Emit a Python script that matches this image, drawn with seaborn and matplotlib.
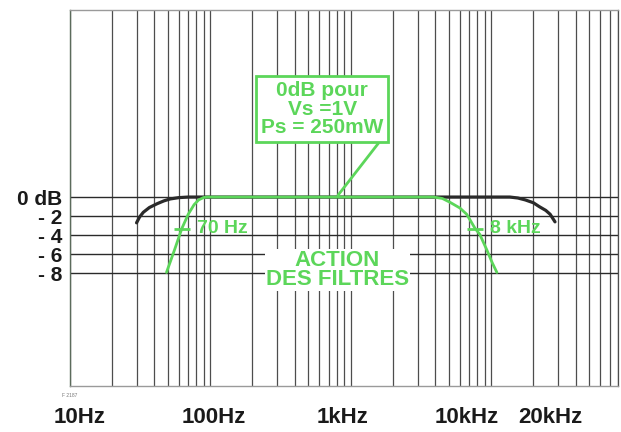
import matplotlib
matplotlib.use('Agg')
import matplotlib.pyplot as plt
import matplotlib.ticker as mticker
import matplotlib.transforms as mtransforms
import seaborn as sns
import pandas as pd

# response curves (Hz, dB)
freq_amp = [30, 31.5, 33.5, 37, 42, 47, 52, 60, 70, 13600, 15500, 17500, 20000, 22000, 24500, 26300, 28500]
db_amp = [-2.7, -2.1, -1.6, -1.1, -0.7, -0.4, -0.2, -0.06, 0, 0, -0.1, -0.3, -0.6, -1.0, -1.4, -1.8, -2.6]

freq_filt = [49, 56, 63, 70, 77, 83, 90, 95, 3900, 4500, 5100, 6000, 6700, 7700, 8300, 9300, 10200, 11000]
db_filt = [-7.9, -5.5, -3.3, -1.8, -0.8, -0.3, -0.05, 0, 0, -0.15, -0.55, -1.15, -1.8, -3.3, -3.9, -5.5, -6.9, -7.9]

# filter cut-off marks
cut_freq = [63, 7700]
cut_db = [-3.3, -3.3]
cut_labels = ['70 Hz', '8 kHz']

y_ticks = [0, -2, -4, -6, -8]
y_labels = ['0 dB', '- 2', '- 4', '- 6', '- 8']

x_labels = ['10Hz', '100Hz', '1kHz', '10kHz', '20kHz']
x_label_pos = [11.7, 107, 870, 6750, 26300]

green = '#5cd65a'
grid_col = '#4d4d4d'

sns.set_style("white")
plt.rcParams['font.family'] = ['Liberation Sans', 'DejaVu Sans']
plt.rcParams['font.weight'] = 'bold'

fig = plt.figure(figsize=(6.21, 4.32), dpi=100)
ax = fig.add_axes([69.5 / 621, 1 - 386 / 432, 548.5 / 621, 376 / 432])

amp_df = pd.DataFrame({'freq': freq_amp, 'db': db_amp})
filt_df = pd.DataFrame({'freq': freq_filt, 'db': db_filt})

sns.lineplot(data=amp_df, x='freq', y='db', color='#2a2a2a', lw=2.3, estimator=None, ax=ax, zorder=3)
sns.lineplot(data=filt_df, x='freq', y='db', color=green, lw=2.0, estimator=None, ax=ax, zorder=4)
ax.plot(cut_freq, cut_db, ls='none', marker='_', ms=11, mew=2, color=green, zorder=4)

ax.set_xscale('log')
ax.set_xlim(10, 80000)
ax.set_ylim(-19.8, 19.6)

ax.xaxis.set_major_locator(mticker.FixedLocator([10, 100, 1000, 10000]))
ax.xaxis.set_minor_locator(mticker.LogLocator(base=10, subs=range(2, 10), numticks=20))
ax.xaxis.set_major_formatter(mticker.NullFormatter())
ax.xaxis.set_minor_formatter(mticker.NullFormatter())
ax.set_yticks(y_ticks, y_labels)
ax.tick_params(axis='both', which='both', length=0)
ax.tick_params(axis='y', pad=5, labelsize=15, labelcolor='#1a1a1a')

ax.grid(True, axis='x', which='both', color=grid_col, lw=0.9)
ax.grid(True, axis='y', which='major', color='#2a2a2a', lw=1.0)
ax.set_axisbelow(True)
ax.set_xlabel('')
ax.set_ylabel('')

for side in ['top', 'bottom']:
    ax.spines[side].set_color('#9a9a9a')
    ax.spines[side].set_linewidth(1.0)
ax.spines['left'].set_color('#5b6b5b')
ax.spines['right'].set_color(grid_col)
ax.spines['left'].set_linewidth(1.0)
ax.spines['right'].set_linewidth(0.9)

# frequency labels under the chart
trans = mtransforms.blended_transform_factory(ax.transData, ax.transAxes)
for pos, lab in zip(x_label_pos, x_labels):
    ax.text(pos, -0.085, lab, transform=trans, ha='center', va='center',
            fontsize=16, fontweight='bold', color='#1a1a1a')

# cut-off labels
for f, d, lab in zip(cut_freq, cut_db, cut_labels):
    ax.annotate(lab, xy=(f, d), xytext=(11, 0), textcoords='offset points',
                ha='left', va='center', fontsize=14, fontweight='bold', color=green)

ax.annotate('0dB pour\nVs =1V\nPs = 250mW', xy=(815, 0.2), xytext=(627, 9.2),
            ha='center', va='center', fontsize=15, fontweight='bold', color=green,
            linespacing=0.95,
            bbox=dict(boxstyle='square,pad=0.25', fc='white', ec=green, lw=2),
            arrowprops=dict(arrowstyle='-', color=green, lw=2, relpos=(1, 0),
                            shrinkA=0, shrinkB=0), zorder=5)

ax.text(808, -7.63, 'ACTION\nDES FILTRES', ha='center', va='center', fontsize=16,
        fontweight='bold', color=green, linespacing=0.9,
        bbox=dict(boxstyle='square,pad=0.05', fc='white', ec='none'), zorder=5)

fig.text(62 / 621, 1 - 397 / 432, 'F 2187', fontsize=3.5, color='#777777', fontweight='normal')

fig.savefig('out.png', dpi=100)
